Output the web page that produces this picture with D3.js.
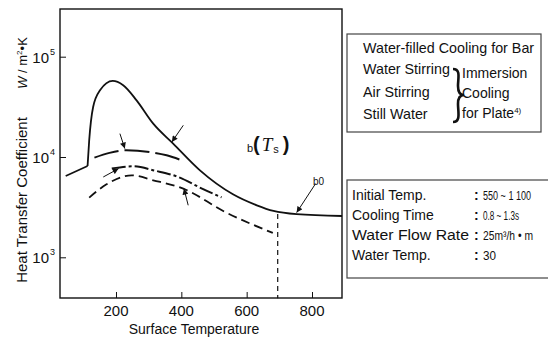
<!DOCTYPE html>
<html>
<head>
<meta charset="utf-8">
<script src="https://cdn.jsdelivr.net/npm/d3@7/dist/d3.min.js"></script>
<style>
body { margin: 0; background: #fff; }
text { font-family: "Liberation Sans", Arial, sans-serif; fill: #111; }
</style>
</head>
<body>
<div id="chart"></div>
<script>
// curves: [surface temperature, coefficient]
var barCoolingStart = [[46, 6470], [113, 8130]];
var barCooling = [[113, 8130], [118, 14700], [130, 31500], [151, 46200], [190, 57300], [222, 51900],
	[263, 36700], [314, 21500], [375, 13600], [457, 7360], [558, 4250], [631, 3300], [682, 2900],
	[753, 2690], [892, 2580]];
var waterStirring = [[134, 9860], [180, 11000], [232, 11670], [304, 11200], [355, 10400], [401, 9270]];
var airStirring = [[187, 7700], [253, 8080], [320, 7300], [391, 6320], [460, 4900], [523, 3960]];
var stillWater = [[118, 3940], [171, 5340], [248, 6570], [314, 5860], [406, 4840], [534, 2830], [680, 1750]];
var dropLine = [[695, 2700], [695, 390]];

var xTicks = [200, 400, 600, 800];
var yTicks = [1e3, 1e4, 1e5];

// arrows: [from, to]
var arrows = [
	[[212, 17100], [227, 12130]],
	[[406, 20700], [371, 14110]],
	[[161, 6320], [208, 7660]],
	[[421, 3300], [408, 4840]],
	[[811, 5430], [753, 2790]]
];

var boxLines1 = ["Water-filled Cooling for Bar", "Water Stirring", "Air Stirring", "Still Water"];
var boxLines2 = ["Immersion", "Cooling", "for Plate"];
var condLabels = ["Initial Temp.", "Cooling Time", "Water Flow Rate", "Water Temp."];
var condValues = ["550 ~ 1 100", "0.8 ~ 1.3s", "25m³/h • m", "30"];
var condWidths = [48, 36, 50, 13];

function init(){
	var w = 548;
	var h = 343;

	var x = d3.scaleLinear().domain([28.6, 891.8]).range([60, 342]);
	var y = d3.scaleLog().domain([Math.pow(10, 2.5942), Math.pow(10, 5.4756)]).range([298, 9]);

	var svg = d3.select("#chart").append("svg")
				.attr("width", w)
				.attr("height", h);

	var defs = svg.append("defs");
	defs.append("marker")
		.attr("id", "head")
		.attr("viewBox", "0 0 10 10")
		.attr("refX", 10).attr("refY", 5)
		.attr("markerWidth", 7).attr("markerHeight", 6)
		.attr("markerUnits", "userSpaceOnUse")
		.attr("orient", "auto")
		.append("path").attr("d", "M0,0L10,5L0,10z").attr("fill", "#111");

	// frame
	svg.append("rect")
		.attr("x", 60).attr("y", 9)
		.attr("width", 282).attr("height", 289)
		.attr("fill", "none").attr("stroke", "#111").attr("stroke-width", 1.4);

	// axes, ticks inward
	svg.append("g")
		.attr("transform", "translate(0,298)")
		.call(d3.axisTop(x).tickValues(xTicks).tickSize(6).tickFormat(""))
		.call(function(g){ g.select(".domain").remove(); g.selectAll("line").attr("stroke", "#111"); });
	svg.selectAll(".xlab").data(xTicks).enter().append("text")
		.attr("x", function(d){ return x(d); })
		.attr("y", 316)
		.attr("text-anchor", "middle")
		.style("font-size", "15px")
		.text(function(d){ return d; });

	svg.append("g")
		.attr("transform", "translate(60,0)")
		.call(d3.axisRight(y).tickValues(yTicks).tickSize(6).tickFormat(""))
		.call(function(g){ g.select(".domain").remove(); g.selectAll("line").attr("stroke", "#111"); });
	var yl = svg.selectAll(".ylab").data(yTicks).enter().append("g");
	yl.append("text")
		.attr("x", 49).attr("y", function(d){ return y(d) + 6; })
		.attr("text-anchor", "end")
		.style("font-size", "15px")
		.text("10");
	yl.append("text")
		.attr("x", 50).attr("y", function(d){ return y(d) - 2; })
		.style("font-size", "9px")
		.text(function(d){ return Math.round(Math.log10(d)); });

	// axis titles
	svg.append("text")
		.attr("transform", "translate(27,200) rotate(-90)")
		.attr("text-anchor", "middle")
		.style("font-size", "15px")
		.text("Heat Transfer Coefficient");
	var unit = svg.append("text")
		.attr("transform", "translate(27,63) rotate(-90)")
		.attr("text-anchor", "middle")
		.style("font-size", "13px");
	unit.append("tspan").style("font-style", "italic").text("W");
	unit.append("tspan").text(" / m");
	unit.append("tspan").attr("dy", -5).style("font-size", "8px").text("2");
	unit.append("tspan").attr("dy", 5).text("•K");

	svg.append("text")
		.attr("x", 194).attr("y", 334)
		.attr("text-anchor", "middle")
		.style("font-size", "14px")
		.text("Surface Temperature");

	// curves
	var line = d3.line()
				.x(function(d){ return x(d[0]); })
				.y(function(d){ return y(d[1]); });
	var smooth = d3.line()
				.x(function(d){ return x(d[0]); })
				.y(function(d){ return y(d[1]); })
				.curve(d3.curveMonotoneX);

	function draw(data, gen, dash, width){
		svg.append("path")
			.attr("d", gen(data))
			.attr("fill", "none")
			.attr("stroke", "#111")
			.attr("stroke-width", width)
			.attr("stroke-dasharray", dash);
	}
	draw(barCoolingStart, line, null, 1.8);
	draw(barCooling, smooth, null, 1.8);
	draw(waterStirring, smooth, "25,6", 2);
	draw(airStirring, smooth, "14,3,3,3", 2);
	draw(stillWater, smooth, "9,5", 1.8);
	draw(dropLine, line, "5,4", 1.2);

	svg.selectAll(".arrow").data(arrows).enter().append("line")
		.attr("x1", function(d){ return x(d[0][0]); })
		.attr("y1", function(d){ return y(d[0][1]); })
		.attr("x2", function(d){ return x(d[1][0]); })
		.attr("y2", function(d){ return y(d[1][1]); })
		.attr("stroke", "#111")
		.attr("stroke-width", 1)
		.attr("marker-end", "url(#head)");

	svg.append("text")
		.attr("x", x(803)).attr("y", y(5225))
		.style("font-size", "10px")
		.text("b0");

	var bt = svg.append("text")
		.attr("x", x(601)).attr("y", y(11140));
	bt.append("tspan").style("font-size", "11px").text("b");
	bt.append("tspan").attr("dy", -1).style("font-size", "20px").style("font-weight", "bold").text("(");
	bt.append("tspan").attr("dx", 2).style("font-size", "19px").style("font-style", "italic")
		.style("font-family", "'Liberation Serif', 'Times New Roman', serif").text("T");
	bt.append("tspan").attr("dy", 2).attr("dx", 1).style("font-size", "11px").text("s");
	bt.append("tspan").attr("dy", -2).attr("dx", 4).style("font-size", "20px").style("font-weight", "bold").text(")");

	// legend box
	svg.append("rect")
		.attr("x", 347).attr("y", 34).attr("width", 194).attr("height", 98)
		.attr("fill", "none").attr("stroke", "#444").attr("stroke-width", 1.2);
	svg.selectAll(".b1").data(boxLines1).enter().append("text")
		.attr("x", 363)
		.attr("y", function(d, i){ return [53, 74, 97, 119][i]; })
		.style("font-size", "14.3px")
		.text(function(d){ return d; });
	var b2 = svg.selectAll(".b2").data(boxLines2).enter().append("text")
		.attr("x", 462)
		.attr("y", function(d, i){ return [78, 98, 118][i]; })
		.style("font-size", "14px")
		.text(function(d){ return d; });
	b2.filter(function(d, i){ return i == 2; })
		.append("tspan").attr("dy", -5).style("font-size", "8px").text("4)");
	svg.append("path")
		.attr("d", "M453,69 C461,69 458,78 458,86 C458,92 460,95 464,95 C460,95 458,98 458,104 C458,112 461,122 453,122")
		.attr("fill", "none").attr("stroke", "#111").attr("stroke-width", 2.6);

	// conditions box
	svg.append("rect")
		.attr("x", 347).attr("y", 180).attr("width", 210).attr("height", 98)
		.attr("fill", "none").attr("stroke", "#444").attr("stroke-width", 1.2);
	svg.selectAll(".c1").data(condLabels).enter().append("text")
		.attr("x", 352)
		.attr("y", function(d, i){ return 200 + i * 20; })
		.style("font-size", "14px")
		.text(function(d){ return d; })
		.filter(function(d, i){ return i == 2; })
		.attr("textLength", 117).attr("lengthAdjust", "spacingAndGlyphs");
	svg.selectAll(".colon").data(condLabels).enter().append("text")
		.attr("x", 474)
		.attr("y", function(d, i){ return 200 + i * 20; })
		.style("font-size", "14px")
		.style("font-weight", "bold")
		.text(":");
	svg.selectAll(".c2").data(condValues).enter().append("text")
		.attr("x", 483)
		.attr("y", function(d, i){ return 200 + i * 20; })
		.style("font-size", "12px")
		.attr("textLength", function(d, i){ return condWidths[i]; })
		.attr("lengthAdjust", "spacingAndGlyphs")
		.text(function(d){ return d; });
}

window.onload = init;
</script>
</body>
</html>
